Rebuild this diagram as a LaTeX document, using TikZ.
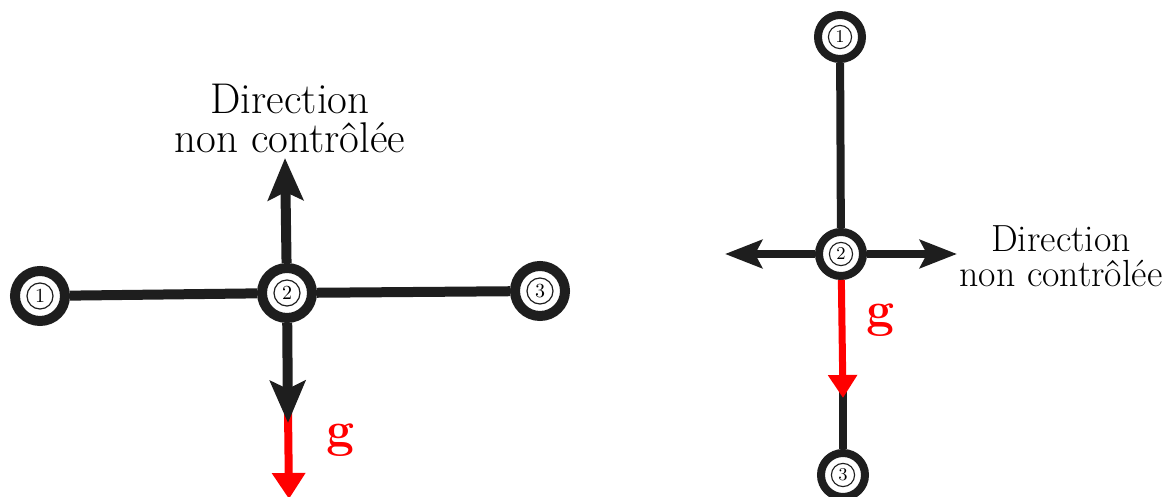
\documentclass[tikz,border=0pt]{standalone}
\usetikzlibrary{arrows.meta}
\definecolor{linkgray}{RGB}{30,30,30}
\definecolor{gravred}{RGB}{255,0,0}

\begin{document}
\begin{tikzpicture}[x=0.5pt, y=-0.5pt,
    joint/.style={circle, draw=linkgray, fill=white, line width=5pt, minimum size=25pt, inner sep=0pt,
      font=\fontsize{10}{12}\selectfont,
      path picture={\draw[line width=0.6pt] (path picture bounding box.center) circle[radius=6.5pt];}},
    jointsmall/.style={joint, line width=4pt, minimum size=22pt, font=\fontsize{9}{11}\selectfont,
      path picture={\draw[line width=0.55pt] (path picture bounding box.center) circle[radius=5.8pt];}},
    link/.style={line width=5pt, linkgray},
    linksmall/.style={line width=4pt, linkgray},
    dof/.style={link, -{Stealth[length=21pt, width=17.5pt, inset=4pt]}},
    dofsmall/.style={linksmall, -{Stealth[length=18.5pt, width=14pt, inset=3.5pt]}},
    grav/.style={line width=4pt, gravred, -{Triangle[length=13pt, width=16pt]}},
    gravsmall/.style={line width=3.5pt, gravred, -{Triangle[length=11.5pt, width=14pt]}},
    label/.style={align=center, inner sep=0pt}]
  \useasboundingbox (0,0) rectangle (1164,497);
  % left: horizontal arm, the free direction points up
  \node[joint] (l1) at (40,296) {1};
  \node[joint] (l2) at (287,293) {2};
  \node[joint] (l3) at (540,291) {3};
  \coordinate (lup) at (285,158);
  \coordinate (ldown) at (288,423);
  \coordinate (lred) at (288,410);
  \coordinate (lg) at (289,499);
  \draw[link] (l1) -- (l2);
  \draw[link] (l2) -- (l3);
  \draw[grav] (lred) -- (lg);
  \draw[dof] (l2) -- (lup);
  \draw[dof] (l2) -- (ldown);
  \node[label, font=\fontsize{21.5}{19.5}\selectfont] (ltext) at (290,118) {Direction\\non contrôlée};
  \node[gravred, font=\fontsize{30}{30}\selectfont] (lglabel) at (341,440) {$\mathbf{g}$};
  % right: vertical arm, the free direction is horizontal
  \node[jointsmall] (r1) at (840,37) {1};
  \node[jointsmall] (r2) at (841,254) {2};
  \node[jointsmall] (r3) at (843,475) {3};
  \coordinate (rleft) at (725,254);
  \coordinate (rright) at (957,254);
  \coordinate (rg) at (843,398);
  \coordinate (rback) at (843,388);
  \draw[linksmall] (r1) -- (r2);
  \draw[linksmall] (rback) -- (r3);
  \draw[dofsmall] (r2) -- (rleft);
  \draw[dofsmall] (r2) -- (rright);
  \draw[gravsmall] (r2) -- (rg);
  \node[label, font=\fontsize{18.9}{17.5}\selectfont] (rtext) at (1061,256) {Direction\\non contrôlée};
  \node[gravred, font=\fontsize{24}{24}\selectfont] (rglabel) at (881,320) {$\mathbf{g}$};
\end{tikzpicture}
\end{document}
